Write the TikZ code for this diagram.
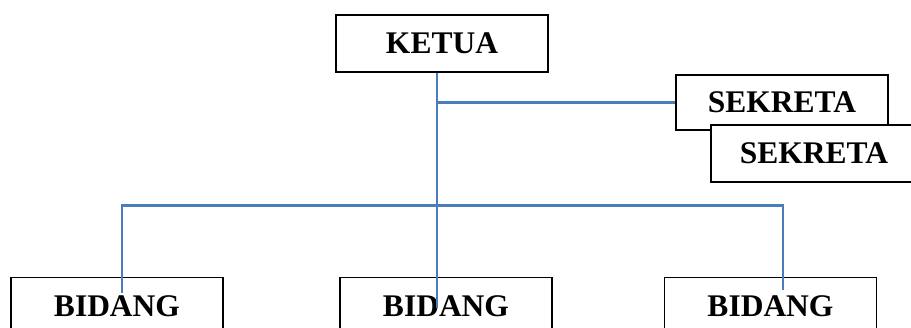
\documentclass[tikz,border=0pt]{standalone}
\usepackage{fontspec}
\setmainfont{Liberation Serif}
\definecolor{linkblue}{HTML}{4A7EBB}
\begin{document}
\begin{tikzpicture}[x=1pt,y=-1pt,
  box/.style={draw=black, line width=1.5pt, fill=white, rectangle, inner sep=0pt,
    minimum width=212pt, font=\fontsize{31.5}{36}\selectfont\bfseries},
  link/.style={draw=linkblue, line width=2.2pt}]
\useasboundingbox (0,0) rectangle (911,328);
\clip (0,0) rectangle (911,328);
% boxes
\node[box, minimum height=57pt] (ketua) at (442,43.5) {KETUA};
\node[box, minimum height=55pt] (sek1) at (782,102.5) {SEKRETA};
\node[box, minimum width=206pt, minimum height=57pt] (sek2) at (814,153.5) {SEKRETA};
\node[box, minimum height=58pt] (bid1) at (117,306.5) {BIDANG};
\node[box, minimum height=58pt] (bid2) at (446,306.5) {BIDANG};
\node[box, minimum height=58pt] (bid3) at (770.5,306.5) {BIDANG};
% connector points
\coordinate (ktop) at ([xshift=-5pt]ketua.south);
\coordinate (kend) at (437,308);
\coordinate (lend) at (122,293);
\coordinate (rbar) at (783,205.5);
\coordinate (rend) at (783,290);
% connectors
\draw[link] (ktop) -- (kend);
\draw[link] (ktop |- sek1.west) -- (sek1.west);
\draw[link] (lend) |- (rbar) -- (rend);
\end{tikzpicture}
\end{document}
